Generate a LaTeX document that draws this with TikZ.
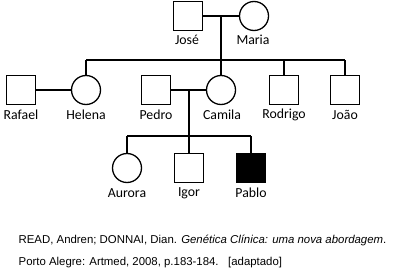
\documentclass[tikz,border=0pt]{standalone}
\usepackage{fontspec}
\setmainfont{Carlito}
\newfontfamily\reffont{Liberation Sans}
\begin{document}
\begin{tikzpicture}[x=1pt,y=-1pt,line width=1.3pt,
  male/.style={draw,rectangle,minimum size=29pt,inner sep=0pt},
  female/.style={draw,circle,minimum size=29pt,inner sep=0pt},
  affected/.style={fill=black},
  lbl/.style={font=\fontsize{13.8}{15}\selectfont,inner sep=0pt},
  ref/.style={font=\reffont\fontsize{11.4}{13}\selectfont,inner sep=0pt,anchor=west},
  rel/.style={line width=1.3pt}]
\useasboundingbox (0,0) rectangle (398,278);
% generation I
\node[male] (jose) at (188,16) {};
\node[female] (maria) at (254,16) {};
\node[lbl] at (187,40) {José};
\node[lbl] at (253,40) {Maria};
\draw[rel] (jose) -- (maria);
\coordinate (m1) at (221,16);
\coordinate (s1) at (221,60);
\draw[rel] (m1) -- (s1);
% generation II
\node[male] (rafael) at (21,90) {};
\node[female] (helena) at (86,90) {};
\node[male] (pedro) at (156,90) {};
\node[female] (camila) at (221,90) {};
\node[male] (rodrigo) at (284,90) {};
\node[male] (joao) at (345,90) {};
\node[lbl] at (21,115) {Rafael};
\node[lbl] at (86,115) {Helena};
\node[lbl] at (156,115) {Pedro};
\node[lbl] at (222,115) {Camila};
\node[lbl] at (284,115) {Rodrigo};
\node[lbl] at (345,115) {João};
\coordinate (sh) at (86,60);
\coordinate (sj) at (345,60);
\coordinate (sr) at (284,60);
\draw[rel] (sh) -- (sj);
\draw[rel] (sh) -- (helena);
\draw[rel] (s1) -- (camila);
\draw[rel] (sr) -- (rodrigo);
\draw[rel] (sj) -- (joao);
\draw[rel] (rafael) -- (helena);
\draw[rel] (pedro) -- (camila);
\coordinate (m2) at (189,90);
\coordinate (s2) at (189,136);
\draw[rel] (m2) -- (s2);
% generation III
\node[female] (aurora) at (127,168) {};
\node[male] (igor) at (189,168) {};
\node[male,affected] (pablo) at (251,168) {};
\node[lbl] at (127,193) {Aurora};
\node[lbl] at (189,193) {Igor};
\node[lbl] at (251,193) {Pablo};
\coordinate (sa) at (127,136);
\coordinate (sp) at (251,136);
\draw[rel] (sa) -- (sp);
\draw[rel] (sa) -- (aurora);
\draw[rel] (s2) -- (igor);
\draw[rel] (sp) -- (pablo);
% reference
\node[ref] (r1) at (18,240) {READ, Andren; DONNAI, Dian. \textit{Genética Clínica: uma nova abordagem}.};
\node[ref] (r2) at (18,263) {Porto Alegre: Artmed, 2008, p.183-184.\ \ \ [adaptado]};
\end{tikzpicture}
\end{document}
